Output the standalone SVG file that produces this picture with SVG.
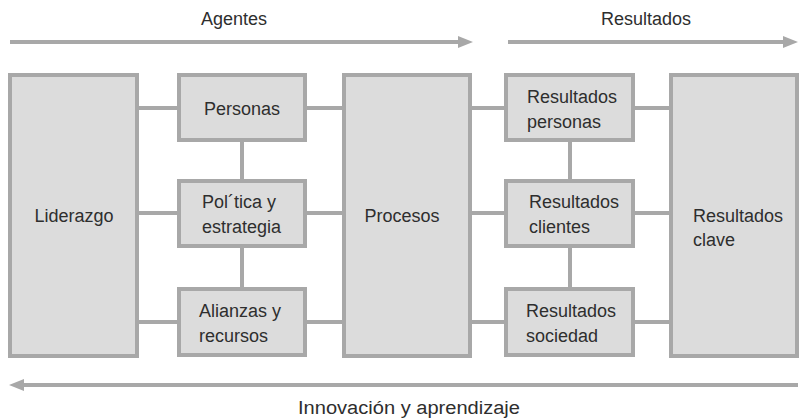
<svg xmlns="http://www.w3.org/2000/svg" width="802" height="420" viewBox="0 0 802 420">
<style>
.box{fill:#dcdcdc;stroke:#a8a8a8;stroke-width:4}
.ln{stroke:#a8a8a8;stroke-width:4;fill:none}
.ah{fill:#a8a8a8}
text{font-family:"Liberation Sans",Arial,sans-serif;font-size:18px;fill:#2e2e2e}
.c{text-anchor:middle}
</style>
<rect width="802" height="420" fill="#ffffff"/>
<g id="connectors">
<line class="ln" x1="139" y1="108" x2="177" y2="108"/>
<line class="ln" x1="139" y1="213" x2="177" y2="213"/>
<line class="ln" x1="139" y1="322" x2="177" y2="322"/>
<line class="ln" x1="307" y1="108" x2="342" y2="108"/>
<line class="ln" x1="307" y1="213" x2="342" y2="213"/>
<line class="ln" x1="307" y1="322" x2="342" y2="322"/>
<line class="ln" x1="472" y1="108" x2="504" y2="108"/>
<line class="ln" x1="472" y1="213" x2="504" y2="213"/>
<line class="ln" x1="472" y1="322" x2="504" y2="322"/>
<line class="ln" x1="635" y1="108" x2="669" y2="108"/>
<line class="ln" x1="635" y1="213" x2="669" y2="213"/>
<line class="ln" x1="635" y1="322" x2="669" y2="322"/>
<line class="ln" x1="242" y1="142" x2="242" y2="179"/>
<line class="ln" x1="242" y1="248" x2="242" y2="287"/>
<line class="ln" x1="570" y1="142" x2="570" y2="179"/>
<line class="ln" x1="570" y1="248" x2="570" y2="287"/>
</g>
<g id="arrow-agentes">
<line class="ln" x1="10" y1="42" x2="460" y2="42"/>
<polygon class="ah" points="458,36 473,42 458,48"/>
<text class="c" x="234" y="25">Agentes</text>
</g>
<g id="arrow-resultados">
<line class="ln" x1="508" y1="42" x2="785" y2="42"/>
<polygon class="ah" points="783,36 798,42 783,48"/>
<text class="c" x="646" y="25">Resultados</text>
</g>
<g id="arrow-innovacion">
<line class="ln" x1="22" y1="385" x2="798" y2="385"/>
<polygon class="ah" points="24,379 9,385 24,391"/>
<text x="298" y="414" textLength="222" lengthAdjust="spacingAndGlyphs">Innovación y aprendizaje</text>
</g>
<g id="liderazgo">
<rect class="box" x="10" y="75" width="127" height="281"/>
<text class="c" x="74" y="222">Liderazgo</text>
</g>
<g id="personas">
<rect class="box" x="179" y="75" width="126" height="65"/>
<text class="c" x="242" y="115">Personas</text>
</g>
<g id="politica">
<rect class="box" x="179" y="181" width="126" height="65"/>
<text x="202" y="208">Pol´tica y</text>
<text x="202" y="233">estrategia</text>
</g>
<g id="alianzas">
<rect class="box" x="179" y="289" width="126" height="66"/>
<text x="199" y="317">Alianzas y</text>
<text x="199" y="342">recursos</text>
</g>
<g id="procesos">
<rect class="box" x="344" y="75" width="126" height="281"/>
<text class="c" x="402" y="222">Procesos</text>
</g>
<g id="resultados-personas">
<rect class="box" x="506" y="75" width="127" height="65"/>
<text x="527" y="103">Resultados</text>
<text x="527" y="128">personas</text>
</g>
<g id="resultados-clientes">
<rect class="box" x="506" y="181" width="127" height="65"/>
<text x="529" y="208">Resultados</text>
<text x="529" y="233">clientes</text>
</g>
<g id="resultados-sociedad">
<rect class="box" x="506" y="289" width="127" height="66"/>
<text x="526" y="317">Resultados</text>
<text x="526" y="342">sociedad</text>
</g>
<g id="resultados-clave">
<rect class="box" x="671" y="75" width="126" height="281"/>
<text x="693" y="222">Resultados</text>
<text x="693" y="246">clave</text>
</g>
</svg>
